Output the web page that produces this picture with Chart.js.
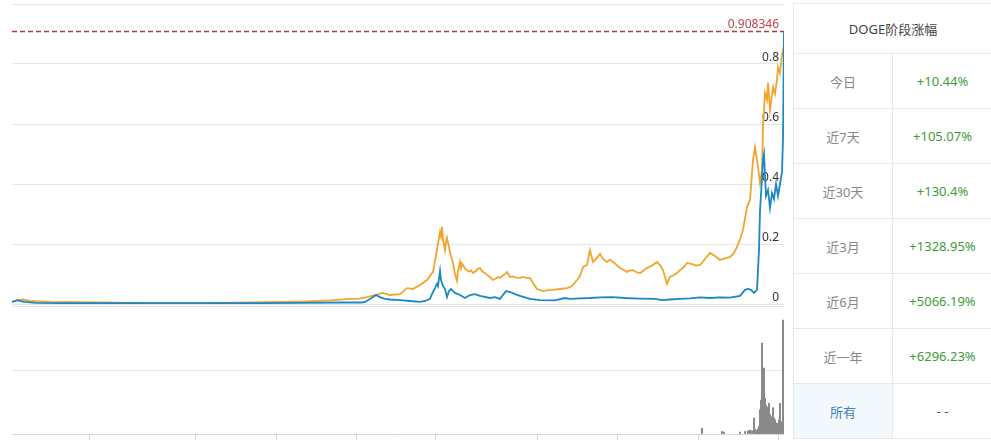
<!DOCTYPE html>
<html><head><meta charset="utf-8">
<script src="https://cdn.jsdelivr.net/npm/chart.js@4/dist/chart.umd.min.js"></script>
<style>
html,body{margin:0;padding:0;background:#fff;width:991px;height:441px;overflow:hidden;font-family:'Noto Sans','Noto Sans CJK SC',sans-serif;}
#price{position:absolute;left:0;top:0;}
#vol{position:absolute;left:0;top:306px;}
#tbl{position:absolute;left:793px;top:3px;width:200px;}
#tbl table{border-collapse:collapse;width:100%;table-layout:fixed;font-size:13px;}
#tbl th,#tbl td{border:1px solid #e8e8e8;text-align:center;padding:0;font-weight:normal;}
#tbl th{height:49px;color:#444;}
#tbl td{height:54px;}
#tbl td.k{color:#888;}
#tbl td.v{color:#3f9b36;}
#tbl td.sel{background:#f3f8fc;color:#3f7fbf;}
#tbl td.none{color:#555;}
</style></head>
<body>
<canvas id="price" width="784" height="306"></canvas>
<canvas id="vol" width="784" height="135"></canvas>
<div id="tbl"></div>
<script>
// ---- data ----
const tableTitle = 'DOGE阶段涨幅';
const periodLabels = ['今日','近7天','近30天','近3月','近6月','近一年','所有'];
const periodChanges = ['+10.44%','+105.07%','+130.4%','+1328.95%','+5066.19%','+6296.23%','- -'];

// sample index (time) and DOGE price
const dogeT = [0,3,6,8,12,23,48,100,150,200,250,290,330,350,353,358,361,364,368,373,378,388,398,408,413,418,421,423,425,426,428,429,431,433,435,437,439,443,448,453,458,463,468,478,483,488,491,494,498,503,508,518,528,543,553,558,568,578,588,600,613,628,643,650,658,668,678,688,698,708,718,728,733,736,739,742,745,747,748,750,751,752,754,756,758,760,762,764,766,768,770,771,772];
const dogeP = [0.007,0.010,0.013,0.010,0.007,0.004,0.003,0.003,0.003,0.003,0.003,0.004,0.005,0.005,0.007,0.017,0.023,0.030,0.023,0.017,0.015,0.013,0.010,0.007,0.010,0.017,0.040,0.053,0.067,0.060,0.110,0.080,0.060,0.050,0.023,0.043,0.050,0.037,0.030,0.020,0.030,0.033,0.027,0.020,0.023,0.017,0.030,0.043,0.040,0.033,0.027,0.017,0.013,0.012,0.020,0.017,0.019,0.020,0.022,0.023,0.020,0.018,0.017,0.013,0.015,0.017,0.019,0.022,0.020,0.022,0.021,0.027,0.047,0.050,0.047,0.037,0.047,0.180,0.310,0.420,0.480,0.500,0.360,0.380,0.320,0.370,0.350,0.400,0.360,0.400,0.440,0.550,0.908346];

// comparison series (orange)
const cmpT = [0,6,11,18,38,88,138,188,238,288,318,338,348,355,363,371,378,388,395,401,408,415,421,425,428,429,430,431,432,433,434,435,436,437,438,439,440,441,442,443,445,446,448,449,450,451,453,455,457,459,461,464,466,468,470,472,475,478,481,484,486,488,491,493,495,497,498,501,504,508,511,514,518,521,525,531,536,541,548,555,560,565,568,571,575,578,581,584,588,591,595,598,601,604,608,611,615,618,621,625,628,631,635,640,645,648,651,653,655,658,661,665,668,671,675,680,684,688,693,698,703,708,713,718,722,725,728,731,735,738,741,743,746,748,750,751,753,755,756,758,761,763,765,766,768,770,772];
const cmpP = [0.007,0.013,0.015,0.010,0.007,0.005,0.003,0.003,0.005,0.008,0.012,0.017,0.018,0.023,0.030,0.037,0.030,0.033,0.053,0.050,0.063,0.080,0.107,0.180,0.240,0.225,0.257,0.213,0.200,0.180,0.205,0.220,0.203,0.190,0.173,0.160,0.150,0.137,0.120,0.100,0.077,0.110,0.140,0.120,0.135,0.130,0.118,0.113,0.108,0.112,0.103,0.110,0.118,0.120,0.110,0.105,0.097,0.090,0.080,0.085,0.090,0.087,0.095,0.100,0.107,0.095,0.090,0.092,0.088,0.087,0.090,0.087,0.087,0.070,0.050,0.043,0.046,0.047,0.050,0.053,0.060,0.080,0.093,0.123,0.130,0.180,0.140,0.150,0.167,0.150,0.140,0.148,0.140,0.132,0.120,0.115,0.107,0.112,0.113,0.105,0.103,0.110,0.120,0.128,0.140,0.130,0.113,0.090,0.067,0.090,0.095,0.103,0.113,0.120,0.137,0.133,0.128,0.130,0.150,0.170,0.160,0.147,0.152,0.157,0.170,0.190,0.215,0.247,0.323,0.347,0.480,0.523,0.457,0.403,0.447,0.590,0.703,0.680,0.737,0.647,0.723,0.700,0.747,0.790,0.770,0.830,0.863];

// volume
const volT = [690,710,712,728,733,736,738,740,742,743,744,745,746,747,748,749,750,751,752,753,754,755,756,757,758,759,760,761,762,763,764,765,766,767,768,769,770,771,772];
const volV = [0.09,0.04,0.03,0.03,0.04,0.05,0.06,0.05,0.25,0.07,0.06,0.05,0.08,0.12,0.38,0.53,1.42,0.53,1.03,0.56,0.45,0.42,0.34,0.48,0.30,0.25,0.27,0.41,0.25,0.22,0.16,0.17,0.14,0.22,0.48,0.19,0.11,1.78,0.20];

const priceTicks = [0,0.2,0.4,0.6,0.8,1];
const priceTickLabels = ['0','0.2','0.4','0.6','0.8',''];
const xTickPositions = [77,183,264,344,424,525,605,686,766];
const tMax = 772;

// ---- table ----
(function(){
  let h = '<table><colgroup><col style="width:99px"><col></colgroup><tr><th colspan="2">'+tableTitle+'</th></tr>';
  periodLabels.forEach((l,i)=>{
    const last = i === periodLabels.length-1;
    h += '<tr><td class="k'+(last?' sel':'')+'">'+l+'</td><td class="'+(last?'none':'v')+'">'+periodChanges[i]+'</td></tr>';
  });
  h += '</table>';
  document.getElementById('tbl').innerHTML = h;
})();

const pts = (T,V)=>T.map((t,i)=>({x:t,y:V[i]}));
const lastPrice = dogeP[dogeP.length-1];
const fitRight = s=>{ s.paddingTop=0; s.paddingBottom=0; s.width=0; };

const markLabel = {
  id:'markLabel',
  afterDatasetsDraw(chart){
    const {ctx, chartArea, scales} = chart;
    const y = scales.y.getPixelForValue(lastPrice);
    ctx.save();
    ctx.font = '12px "Noto Sans"';
    ctx.fillStyle = '#c2404a';
    ctx.textAlign = 'right';
    ctx.textBaseline = 'alphabetic';
    ctx.fillText(String(lastPrice), chartArea.right-5, y-3);
    ctx.restore();
  }
};

new Chart(document.getElementById('price'), {
  type:'line',
  data:{datasets:[
    {data:pts(dogeT,dogeP), borderColor:'#1b87c5', borderWidth:1.8, pointRadius:0, tension:0},
    {data:pts(cmpT,cmpP), borderColor:'#f2a42c', borderWidth:1.8, pointRadius:0, tension:0},
    {data:[{x:0,y:lastPrice},{x:tMax,y:lastPrice}], borderColor:'#b3393f', borderWidth:1.5, borderDash:[5,3], pointRadius:0}
  ]},
  options:{
    responsive:false, animation:false, events:[],
    layout:{padding:{left:12,top:4,bottom:2,right:0}},
    plugins:{legend:{display:false}, tooltip:{enabled:false}},
    scales:{
      x:{type:'linear', min:0, max:tMax, display:false},
      y:{position:'right', min:0, max:1,
        afterBuildTicks:s=>{ s.ticks = priceTicks.map(v=>({value:v})); },
        afterFit:fitRight,
        grid:{color:'#e6e6e6', drawTicks:false},
        border:{display:true, color:'#e6e6e6'},
        ticks:{mirror:true, padding:-5, labelOffset:-6, color:'#333', font:{family:'Noto Sans', size:12},
          callback:(v,i)=>priceTickLabels[i]}
      }
    }
  },
  plugins:[markLabel]
});

new Chart(document.getElementById('vol'), {
  type:'bar',
  data:{datasets:[{data:pts(volT,volV), backgroundColor:'#8a8a8a', barThickness:1.4}]},
  options:{
    responsive:false, animation:false, events:[],
    layout:{padding:{left:12,top:0,bottom:1,right:0}},
    plugins:{legend:{display:false}, tooltip:{enabled:false}},
    scales:{
      x:{type:'linear', min:0, max:tMax, offset:false,
        afterBuildTicks:s=>{ s.ticks = xTickPositions.map(v=>({value:v})); },
        grid:{display:true, offset:false, drawOnChartArea:false, drawTicks:true, tickLength:6, color:'#ccd6eb'},
        border:{display:true, color:'#ccd6eb'},
        ticks:{display:false}
      },
      y:{position:'right', min:0, max:2,
        afterBuildTicks:s=>{ s.ticks = [0,1,2].map(v=>({value:v})); },
        afterFit:fitRight,
        grid:{color:'#e6e6e6', drawTicks:false},
        border:{display:true, color:'#e6e6e6'},
        ticks:{display:false}
      }
    }
  }
});
</script>
</body></html>
